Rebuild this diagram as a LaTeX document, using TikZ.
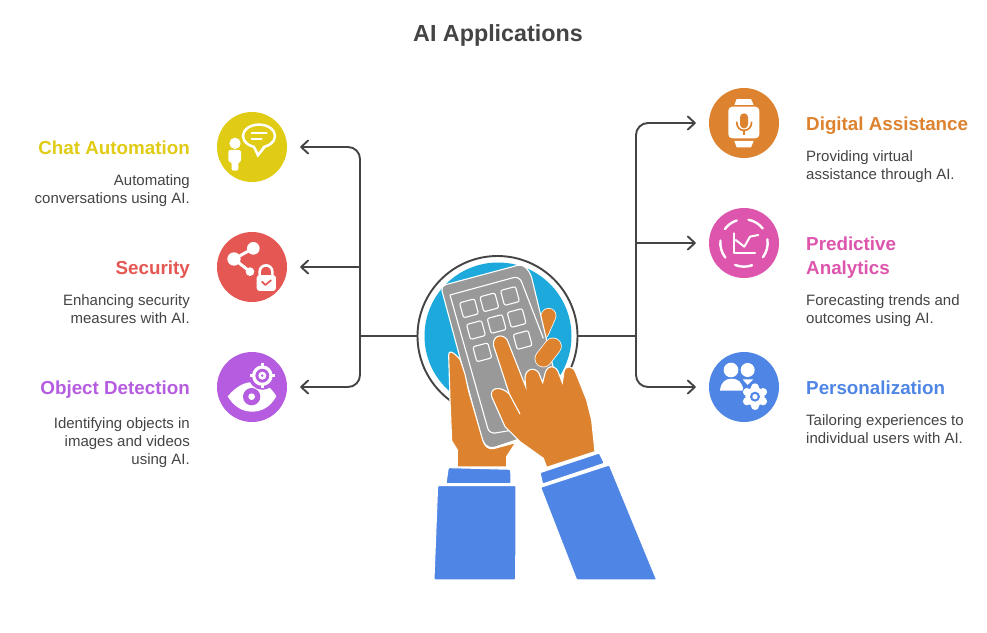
\documentclass[tikz,border=0pt]{standalone}
\usepackage{fontspec}
\setmainfont{Liberation Sans}
\usetikzlibrary{arrows.meta}
\definecolor{ink}{HTML}{444444}
\definecolor{cyel}{HTML}{E0CB15}
\definecolor{cred}{HTML}{E55753}
\definecolor{cpur}{HTML}{B55CE0}
\definecolor{cora}{HTML}{DD832F}
\definecolor{cpin}{HTML}{DD55AC}
\definecolor{cblu}{HTML}{4F86E5}
\definecolor{ccya}{HTML}{1DA9DB}
\definecolor{cgra}{HTML}{999999}
\tikzset{
  disc/.style={circle,minimum size=70pt,inner sep=0pt,fill=#1},
  conn/.style={draw=ink,line width=1.9pt,rounded corners=12pt},
  arr/.style={conn,-{Straight Barb[round,length=7pt,width=13pt,line width=1.9pt]},shorten >=13pt},
  headl/.style={font=\fontsize{18.8}{24}\selectfont\bfseries,anchor=base east,align=right,inner sep=0pt,text=#1},
  headr/.style={font=\fontsize{18.8}{24}\selectfont\bfseries,anchor=base west,align=left,inner sep=0pt,text=#1},
  bodyl/.style={font=\fontsize{15}{18}\selectfont,anchor=base east,align=right,inner sep=0pt,text=ink},
  bodyr/.style={font=\fontsize{15}{18}\selectfont,anchor=base west,align=left,inner sep=0pt,text=ink},
  ic/.style={x=0.3333pt,y=-0.3333pt},
  hand/.style={fill=cora,draw=white,line width=1.1pt},
  sleeve/.style={fill=cblu,draw=white,line width=1pt,rounded corners=1pt},
  keyb/.style={draw=white,line width=1.1pt,rounded corners=2pt,minimum size=15.5pt,inner sep=0pt,rotate=15},
}
\begin{document}
\begin{tikzpicture}[x=1pt,y=-1pt]
\useasboundingbox (0,0) rectangle (987,632);
\fill[white] (0,0) rectangle (987,632);
\node[font=\fontsize{23.3}{28}\selectfont\bfseries,text=ink,anchor=base,inner sep=0pt] (title) at (498,41) {AI Applications};

% hub and discs
\node[circle,minimum size=160pt,inner sep=0pt,draw=ink,line width=1.9pt] (hub) at (497.5,336) {};
\node[disc=cyel] (chat) at (252,147) {};
\node[disc=cred] (sec) at (252,267) {};
\node[disc=cpur] (obj) at (252,387) {};
\node[disc=cora] (dig) at (744,123) {};
\node[disc=cpin] (pre) at (744,243) {};
\node[disc=cblu] (per) at (744,387) {};
\coordinate (jl) at (360,336);
\coordinate (jr) at (636,336);
\draw[conn] (hub) -- (jl);
\draw[conn] (hub) -- (jr);
\draw[arr] (jl) |- (chat);
\draw[arr] (jl |- sec) -- (sec);
\draw[arr] (jl) |- (obj);
\draw[arr] (jr) |- (dig);
\draw[arr] (jr |- pre) -- (pre);
\draw[arr] (jr) |- (per);

% labels (anchored at the baseline of the last line)
\node[headl=cyel] (t1) at (190,154) {Chat Automation};
\node[bodyl] (b1) at (190,203) {Automating\\conversations using AI.};
\node[headl=cred] (t2) at (190,274) {Security};
\node[bodyl] (b2) at (190,323) {Enhancing security\\measures with AI.};
\node[headl=cpur] (t3) at (190,394) {Object Detection};
\node[bodyl] (b3) at (190,464) {Identifying objects in\\images and videos\\using AI.};
\node[headr=cora] (t4) at (806,130) {Digital Assistance};
\node[bodyr] (b4) at (806,179) {Providing virtual\\assistance through AI.};
\node[headr=cpin] (t5) at (806,274) {Predictive\\Analytics};
\node[bodyr] (b5) at (806,323) {Forecasting trends and\\outcomes using AI.};
\node[headr=cblu] (t6) at (806,394) {Personalization};
\node[bodyr] (b6) at (806,443) {Tailoring experiences to\\individual users with AI.};

% central illustration
\fill[ccya] (498,336) circle[radius=73.5pt];
\begin{scope}[shift={(410,250)},ic]
  % upper finger behind phone
  \draw[white,line width=15.5pt,line cap=round] (395,245) -- (416,197);
  \draw[cora,line width=14pt,line cap=round] (395,245) -- (416,197);
  % phone
  \fill[cgra,draw=white,line width=1.1pt,rounded corners=5pt] (92,108) -- (338,42) -- (362,70) -- (470,520) -- (238,597) -- (218,575) -- cycle;
  \draw[white,line width=1.1pt,rounded corners=6pt] (120,135) -- (328,78) -- (400,265);
  \draw[white,line width=1.1pt,rounded corners=6pt] (120,135) -- (238,552) -- (310,540);
  \foreach \kx/\ky in {177/175,238/157,300/138,198/240,260/222,320/204,217/307,338/270}
    \node[keyb] at (\kx,\ky) {};
  % lower finger
  \draw[white,line width=17.5pt,line cap=round] (400,326) -- (429,289);
  \draw[cora,line width=16pt,line cap=round] (400,326) -- (429,289);
  % left hand
  \fill[hand] (116,315) .. controls (116,300) and (128,303) .. (150,328) -- (165,372) -- (175,420) -- (218,570) .. controls (224,590) and (235,598) .. (250,596) -- (317,578) -- (290,620) -- (290,651) -- (142,651) -- (142,600) -- (125,572) -- (120,450) -- cycle;
  % right hand
  \fill[hand] (250,285) .. controls (248,250) and (288,250) .. (295,278) -- (347,410) -- (345,385) .. controls (345,350) and (385,350) .. (390,378) -- (398,398) -- (405,370) .. controls (412,342) and (440,345) .. (447,372) -- (457,398) -- (462,365) .. controls (465,345) and (490,345) .. (498,370) -- (530,450) -- (545,510) -- (555,605) -- (410,652) -- (400,625) -- (330,575) -- (285,530) -- (245,440) .. controls (238,412) and (272,406) .. (298,432) -- cycle;
  \draw[white,line width=1.1pt] (298,432) -- (330,492);
  % cuffs and sleeves
  \fill[sleeve] (115,653) -- (302,658) -- (303,701) -- (108,701) -- cycle;
  \fill[sleeve] (83,707) -- (318,707) -- (317,990) -- (72,990) -- cycle;
  \fill[sleeve] (390,668) -- (568,609) -- (583,640) -- (398,702) -- cycle;
  \fill[sleeve] (392,712) -- (598,645) -- (740,990) -- (500,990) -- cycle;
\end{scope}
\fill[white] (430,580.5) rectangle (660,584);

% chat icon
\begin{scope}[shift={(212,107)},ic]
  \fill[white] (69,109) circle[radius=17];
  \fill[white,rounded corners=2pt] (49,129) -- (87,129) -- (87,165) -- (79,165) -- (79,191) -- (59,191) -- (59,165) -- (49,165) -- cycle;
  \fill[white] (141,87) ellipse[x radius=52,y radius=38];
  \fill[white] (120,115) -- (137,152) -- (172,108) -- cycle;
  \fill[cyel] (141,87) ellipse[x radius=44,y radius=30];
  \fill[cyel] (126,112) -- (139,136) -- (160,108) -- cycle;
  \draw[white,line width=2pt,line cap=round] (119,79) -- (164,79);
  \draw[white,line width=2pt,line cap=round] (119,97) -- (149,97);
\end{scope}
% security icon
\begin{scope}[shift={(212,227)},ic]
  \draw[white,line width=3pt] (124,64) -- (66,96) -- (114,134);
  \fill[white] (124,64) circle[radius=19];
  \fill[white] (66,96) circle[radius=20];
  \fill[white] (114,134) circle[radius=13];
  \fill[cred] (162,165) circle[radius=38];
  \draw[white,line width=2.6pt] (143,145) -- (143,134) arc[start angle=180,end angle=360,radius=19] -- (181,145);
  \fill[white,rounded corners=3pt] (134,144) rectangle (192,192);
  \draw[cred,line width=1.7pt,line cap=round,line join=round] (150,164) -- (160,174) -- (177,160);
\end{scope}
% object detection icon
\begin{scope}[shift={(212,347)},ic]
  \fill[white] (47,148) .. controls (75,115) and (100,105) .. (125,105) .. controls (160,105) and (180,125) .. (193,148) .. controls (175,180) and (150,194) .. (120,194) .. controls (90,194) and (65,178) .. (47,148) -- cycle;
  \fill[cpur] (151,86) circle[radius=42];
  \fill[cpur] (119,149) circle[radius=26];
  \fill[white] (119,149) circle[radius=10];
  \draw[white,line width=3.2pt] (151,86) circle[radius=26];
  \draw[white,line width=3.2pt] (151,49) -- (151,62) (151,110) -- (151,123) (114,86) -- (127,86) (175,86) -- (188,86);
  \fill[white] (151,86) circle[radius=12];
  \fill[cpur] (151,86) circle[radius=4];
\end{scope}
% digital assistance icon
\begin{scope}[shift={(704,83)},ic]
  \fill[white] (98,48) -- (141,48) -- (149,66) -- (91,66) -- cycle;
  \fill[white] (91,174) -- (149,174) -- (141,193) -- (98,193) -- cycle;
  \fill[cora] (70,67) rectangle (170,71);
  \fill[cora] (70,166) rectangle (170,172);
  \fill[white,rounded corners=4pt] (73,71) rectangle (166,166);
  \fill[cora,rounded corners=3.9pt] (108,91) rectangle (132,136);
  \draw[cora,line width=1.7pt] (98,116) .. controls (98,134) and (108,142) .. (120,142) .. controls (132,142) and (143,134) .. (143,116);
  \draw[cora,line width=1.7pt] (120,142) -- (120,155);
\end{scope}
% predictive icon
\begin{scope}[shift={(704,203)},ic]
  \draw[white,line width=2.4pt,line cap=round] (120,120)++(-144:71) arc[start angle=-144,end angle=-108,radius=71];
  \draw[white,line width=2.4pt,line cap=round] (120,120)++(-79:71) arc[start angle=-79,end angle=-38,radius=71];
  \draw[white,line width=2.4pt,line cap=round] (120,120)++(-9:71) arc[start angle=-9,end angle=37,radius=71];
  \draw[white,line width=2.4pt,line cap=round] (120,120)++(70:71) arc[start angle=70,end angle=112,radius=71];
  \draw[white,line width=2.4pt,line cap=round] (120,120)++(142:71) arc[start angle=142,end angle=186,radius=71];
  \draw[white,line width=2.2pt,line cap=round,line join=round] (91,91) -- (91,151) -- (153,151);
  \draw[white,line width=2pt,line cap=round,line join=round] (95,111) -- (121,131) -- (138,101) -- (163,96);
\end{scope}
% personalization icon
\begin{scope}[shift={(704,347)},ic]
  \fill[white] (81,69) circle[radius=22];
  \fill[white] (131,69) circle[radius=21];
  \fill[white] (48,131) .. controls (50,105) and (65,95) .. (83,95) .. controls (101,95) and (116,105) .. (118,131) -- cycle;
  \fill[white] (116,97) -- (148,97) -- (131,114) -- cycle;
  \fill[cblu] (153,149) circle[radius=42];
  \foreach \a in {30,90,...,330} \fill[white] (153,149)++(\a:28) circle[radius=12];
  \fill[white] (153,149) circle[radius=29];
  \fill[cblu] (153,149) circle[radius=15];
  \fill[white] (153,149) circle[radius=8];
\end{scope}
\end{tikzpicture}
\end{document}
